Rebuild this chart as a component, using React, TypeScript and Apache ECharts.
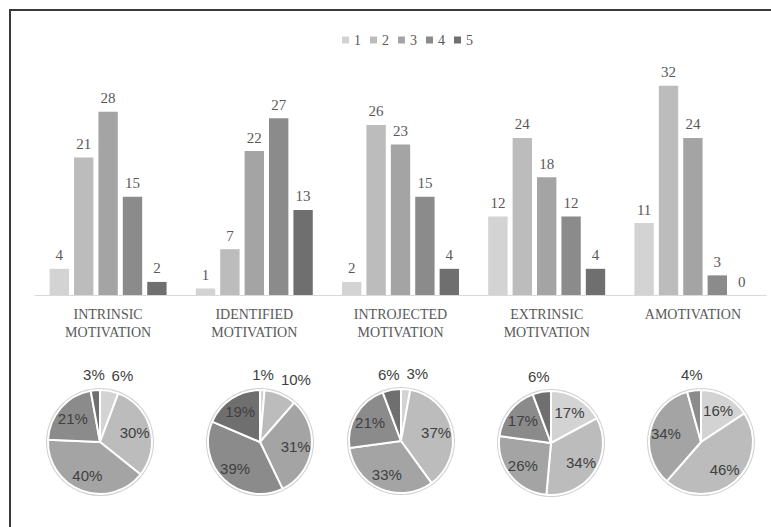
import React, { useEffect, useRef } from "react";
import * as echarts from "echarts";

const categories = [
  "INTRINSIC\nMOTIVATION",
  "IDENTIFIED\nMOTIVATION",
  "INTROJECTED\nMOTIVATION",
  "EXTRINSIC\nMOTIVATION",
  "AMOTIVATION",
];
const levels = ["1", "2", "3", "4", "5"];
const level1 = [4, 1, 2, 12, 11];
const level2 = [21, 7, 26, 24, 32];
const level3 = [28, 22, 23, 18, 24];
const level4 = [15, 27, 15, 12, 3];
const level5 = [2, 13, 4, 4, 0];
const seriesValues = [level1, level2, level3, level4, level5];

const colors = ["#d3d3d3", "#bcbcbc", "#a4a4a4", "#8b8b8b", "#6f6f6f"];
const pieCenters = [
  [100, 442],
  [260, 442],
  [401, 441],
  [551, 443],
  [701, 442],
];

export default function App() {
  const ref = useRef<HTMLDivElement>(null);
  useEffect(() => {
    if (!ref.current) return;
    const chart = echarts.init(ref.current, undefined, { renderer: "svg" });
    const serif = "Liberation Serif";
    const sans = "Liberation Sans";
    const outerR = 65;
    const smallShare = 0.12;

    const barSeries = levels.map((lv, i) => ({
      name: lv,
      type: "bar",
      data: seriesValues[i],
      barGap: "26%",
      barCategoryGap: "20%",
      itemStyle: { color: colors[i] },
      label: {
        show: true,
        position: "top",
        distance: 6,
        color: "#595959",
        fontFamily: serif,
        fontSize: 15,
      },
      silent: true,
    }));

    const pieSeries: any[] = [];
    categories.forEach((_, c) => {
      const vals = seriesValues.map((s) => s[c]);
      const total = vals.reduce((a, b) => a + b, 0);
      const base = vals.map((v, i) => ({ value: v, name: levels[i] }));

      // spread outside labels horizontally when they would collide
      const dx: number[] = vals.map(() => 0);
      let acc = 0;
      const outs: { i: number; x: number; w: number }[] = [];
      vals.forEach((v, i) => {
        const mid = ((acc + v / 2) / total) * Math.PI * 2;
        acc += v;
        if (v > 0 && v / total < smallShare) {
          const txt = String(Math.round((v / total) * 100));
          outs.push({ i, x: outerR * Math.sin(mid), w: txt.length * 8.34 + 13.34 });
        }
      });
      outs.sort((a, b) => a.x - b.x);
      for (let k = 1; k < outs.length; k++) {
        const need = (outs[k - 1].w + outs[k].w) / 2 + 6;
        const cur = outs[k].x;
        if (cur - outs[k - 1].x < need) {
          outs[k].x = outs[k - 1].x + need;
          dx[outs[k].i] += outs[k].x - cur;
        }
      }

      pieSeries.push({
        type: "pie",
        center: pieCenters[c],
        radius: 54,
        silent: true,
        z: 1,
        label: { show: false },
        labelLine: { show: false },
        data: [{ value: 1, itemStyle: { color: "#d0d0d0" } }],
      });
      pieSeries.push({
        type: "pie",
        center: pieCenters[c],
        radius: 52,
        silent: true,
        z: 2,
        label: { show: false },
        labelLine: { show: false },
        itemStyle: { borderColor: "#ffffff", borderWidth: 2 },
        data: base.map((d, i) => ({ ...d, itemStyle: { color: colors[i] } })),
      });
      const fmt = (p: any) => Math.round(p.percent) + "%";
      pieSeries.push({
        type: "pie",
        center: pieCenters[c],
        radius: [0, 66],
        silent: true,
        z: 3,
        itemStyle: { color: "transparent" },
        labelLine: { show: false },
        label: {
          position: "inside",
          formatter: fmt,
          color: "#404040",
          fontFamily: sans,
          fontSize: 15,
        },
        data: base.map((d) => ({
          ...d,
          label: { show: d.value / total >= smallShare },
        })),
      });
      pieSeries.push({
        type: "pie",
        center: pieCenters[c],
        radius: [0, outerR * 2],
        silent: true,
        z: 3,
        itemStyle: { color: "transparent" },
        labelLine: { show: false },
        labelLayout: (p: any) => ({ dx: dx[p.dataIndex] || 0 }),
        label: {
          position: "inside",
          formatter: fmt,
          color: "#404040",
          fontFamily: sans,
          fontSize: 15,
        },
        data: base.map((d) => ({
          ...d,
          label: { show: d.value > 0 && d.value / total < smallShare },
        })),
      });
    });

    chart.setOption({
      animation: false,
      backgroundColor: "#ffffff",
      legend: {
        data: levels,
        left: 337,
        top: 28,
        itemWidth: 7,
        itemHeight: 7,
        itemGap: 9,
        icon: "rect",
        textStyle: { color: "#595959", fontFamily: serif, fontSize: 14 },
      },
      grid: { left: 35, right: 5, top: 66, bottom: 232 },
      xAxis: {
        type: "category",
        data: categories,
        axisTick: { show: false },
        axisLine: { lineStyle: { color: "#d9d9d9", width: 1 } },
        axisLabel: {
          color: "#595959",
          fontFamily: serif,
          fontSize: 14,
          lineHeight: 18,
          margin: 10,
          interval: 0,
        },
      },
      yAxis: { type: "value", min: 0, max: 35, show: false },
      graphic: [
        {
          type: "line",
          shape: { x1: 9, y1: 10, x2: 771, y2: 10 },
          style: { stroke: "#3a3a3a", lineWidth: 2 },
        },
        {
          type: "line",
          shape: { x1: 10, y1: 10, x2: 10, y2: 527 },
          style: { stroke: "#3a3a3a", lineWidth: 2 },
        },
      ],
      series: [...barSeries, ...pieSeries],
    });
    return () => chart.dispose();
  }, []);
  return <div ref={ref} style={{ width: 771, height: 527, position: "absolute", left: 0, top: 0 }} />;
}
